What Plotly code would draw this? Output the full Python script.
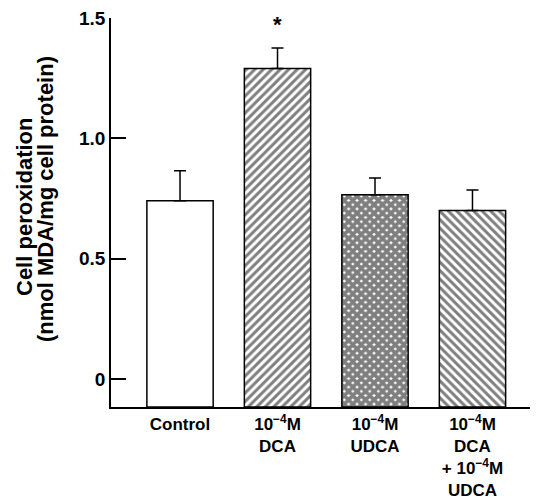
import plotly.graph_objects as go

categories = ["Control", "10<sup>−4</sup>M<br>DCA", "10<sup>−4</sup>M<br>UDCA",
              "10<sup>−4</sup>M<br>DCA<br>+ 10<sup>−4</sup>M<br>UDCA"]
values = [0.74, 1.29, 0.765, 0.70]
errors = [0.125, 0.085, 0.07, 0.085]
patterns = ["", "/", "x", "\\"]
pattern_sizes = [6, 6, 6, 6]
pattern_solidity = [0.5, 0.5, 0.85, 0.5]
y_ticks = [0, 0.5, 1.0, 1.5]
y_ticklabels = ["0", "0.5", "1.0", "1.5"]
y_title_lines = ["Cell peroxidation", "(nmol MDA/mg cell protein)"]
star_label = "*"

y_min, y_max = -0.117, 1.5
xpos = list(range(len(categories)))
font_family = "Liberation Sans, Arial, sans-serif"

fig = go.Figure()
fig.add_trace(go.Bar(
    x=xpos, y=[v - y_min for v in values], base=y_min, width=0.68,
    marker=dict(color="white", line=dict(color="black", width=1.5),
                pattern=dict(shape=patterns, size=pattern_sizes, solidity=pattern_solidity,
                             fgcolor="black", bgcolor="white", fillmode="overlay")),
    error_y=dict(type="data", array=errors, arrayminus=[0]*len(errors), symmetric=False,
                 color="black", thickness=1.5, width=6),
    showlegend=False, hoverinfo="skip",
))

fig.add_annotation(x=xpos[1], y=values[1] + errors[1], yref="y", xref="x",
                   text=star_label, showarrow=False, yshift=24,
                   font=dict(family=font_family, size=22, color="black", weight="bold"))

# y-axis title lines (rotated)
plot_w = 537 - 111 - 7
plot_h = 498 - 18 - 91
title_px = [(24, 207), (45, 199)]
for line, (px, py) in zip(y_title_lines, title_px):
    fig.add_annotation(text=line, textangle=-90, showarrow=False,
                       xref="paper", yref="paper",
                       x=(px - 111) / plot_w, y=(407 - py) / plot_h,
                       xanchor="center", yanchor="middle",
                       font=dict(family=font_family, size=22, color="black", weight="bold"))

fig.update_layout(
    width=537, height=498,
    margin=dict(l=111, r=7, t=18, b=91),
    plot_bgcolor="white", paper_bgcolor="white",
    font=dict(family=font_family, color="black"),
    xaxis=dict(range=[-0.708, 3.59], tickmode="array", tickvals=xpos, ticktext=categories,
               showline=True, linecolor="black", linewidth=1.5, ticks="",
               showgrid=False, zeroline=False, automargin=False, ticklabelstandoff=1,
               tickfont=dict(size=17, weight="bold")),
    yaxis=dict(range=[y_min, y_max], tickmode="array", tickvals=y_ticks, ticktext=y_ticklabels,
               showline=True, linecolor="black", linewidth=1.5,
               ticks="inside", ticklen=15, tickwidth=1.5, tickcolor="black",
               showgrid=False, zeroline=False, automargin=False,
               tickfont=dict(size=19, weight="bold")),
)

fig.write_html("out.html", config={"displayModeBar": False},
               post_script="document.body.style.margin='0';document.body.style.overflow='hidden';")
